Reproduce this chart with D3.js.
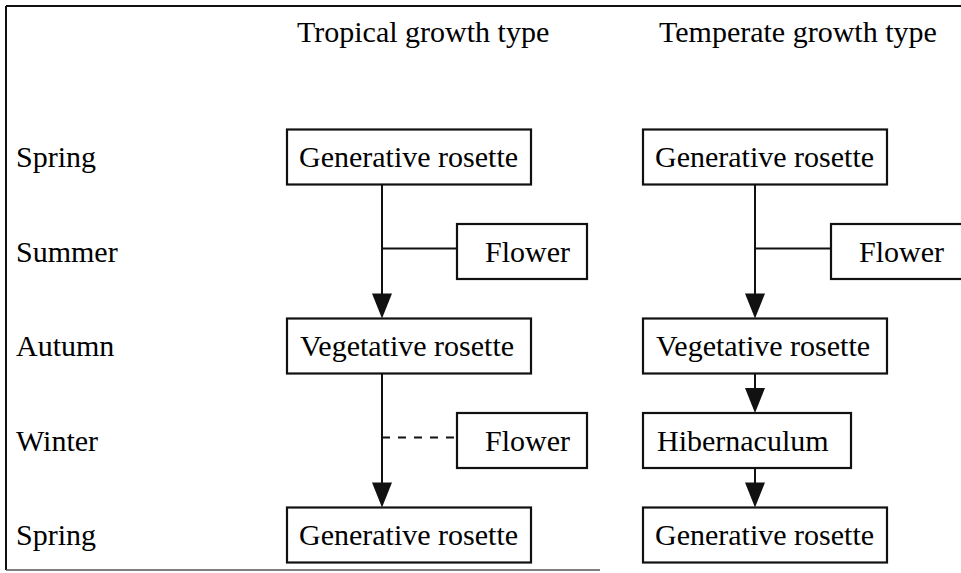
<!DOCTYPE html>
<html>
<head>
<meta charset="utf-8">
<script src="https://cdn.jsdelivr.net/npm/d3@7"></script>
<style>
  html, body { margin: 0; padding: 0; background: #fff; }
  svg { display: block; }
  text { font-family: "Liberation Serif", "Times New Roman", serif; font-size: 30px; fill: #000; }
</style>
</head>
<body>
<svg id="chart" width="961" height="573"></svg>
<script>
// ---- data ----
const seasons = ["Spring", "Summer", "Autumn", "Winter", "Spring"];
const columns = ["Tropical growth type", "Temperate growth type"];
// nodes: column index, season row index, label, kind
const nodeColumn = [0, 0, 0, 0, 0, 1, 1, 1, 1, 1];
const nodeRow    = [0, 1, 2, 3, 4, 0, 1, 2, 3, 4];
const nodeLabel  = ["Generative rosette", "Flower", "Vegetative rosette", "Flower", "Generative rosette",
                    "Generative rosette", "Flower", "Vegetative rosette", "Hibernaculum", "Generative rosette"];
const nodeKind   = ["main", "side", "main", "side", "main", "main", "side", "main", "main", "main"];
// arrows along the main stem: from node index -> to node index
const arrowFrom = [0, 2, 5, 7, 8];
const arrowTo   = [2, 4, 7, 8, 9];
// side branches: stem column -> side node, line type
const branchNode = [1, 3, 6];
const branchType = ["solid", "dashed", "solid"];

// ---- layout ----
const svg = d3.select("#chart");
const y = d3.scalePoint().domain(d3.range(seasons.length)).range([157, 535]);
const xCol = d3.scaleOrdinal().domain(d3.range(columns.length)).range([287, 643]);
const stemOffset = [95, 112];
const titleOffset = [10, 16];
const sideOffset = [170, 188];
const sideWidth = [130, 150]; // temperate side box runs off the cropped right edge
const boxH = 55;
const widthFor = { "Generative rosette": 244, "Vegetative rosette": 244, "Hibernaculum": 208 };
const textPad = { "Generative rosette": 12, "Vegetative rosette": 13, "Hibernaculum": 14, "Flower": 28 };

function nodeBox(i) {
  const c = nodeColumn[i];
  const side = nodeKind[i] === "side";
  const left = side ? xCol(c) + sideOffset[c] : xCol(c);
  const w = side ? sideWidth[c] : widthFor[nodeLabel[i]];
  const cy = y(nodeRow[i]);
  return { x: left, y: cy - boxH / 2, w: w, h: boxH, cy: cy };
}

// frame (scanned figure border, right side cropped)
const frame = svg.append("g").attr("stroke", "#111").attr("stroke-width", 2).attr("fill", "none");
frame.append("line").attr("x1", 6).attr("y1", 6).attr("x2", 961).attr("y2", 6);
frame.append("line").attr("x1", 6).attr("y1", 6).attr("x2", 6).attr("y2", 570);
frame.append("line").attr("x1", 6).attr("y1", 570).attr("x2", 600).attr("y2", 570).attr("stroke", "#555").attr("stroke-width", 1.5);

// column titles
svg.selectAll("text.col").data(columns).join("text")
  .attr("class", "col")
  .attr("x", (d, i) => xCol(i) + titleOffset[i])
  .attr("y", 42)
  .text(d => d);

// season labels
svg.selectAll("text.season").data(seasons).join("text")
  .attr("class", "season")
  .attr("x", 16)
  .attr("y", (d, i) => y(i) + 10)
  .text(d => d);

// stems with arrows
const headW = 20, headH = 25;
const stems = svg.append("g");
arrowFrom.forEach((f, k) => {
  const t = arrowTo[k];
  const c = nodeColumn[f];
  const sx = xCol(c) + stemOffset[c];
  const a = nodeBox(f), b = nodeBox(t);
  const y0 = a.y + a.h, y1 = b.y;
  stems.append("line")
    .attr("x1", sx).attr("x2", sx).attr("y1", y0).attr("y2", y1 - headH + 2)
    .attr("stroke", "#111").attr("stroke-width", 2);
  stems.append("path")
    .attr("d", d3.line()([[sx - headW / 2, y1 - headH], [sx + headW / 2, y1 - headH], [sx, y1]]) + "Z")
    .attr("fill", "#111");
});

// side branches
branchNode.forEach((n, k) => {
  const c = nodeColumn[n];
  const sx = xCol(c) + stemOffset[c];
  const b = nodeBox(n);
  stems.append("line")
    .attr("x1", sx).attr("x2", b.x).attr("y1", b.cy - 3).attr("y2", b.cy - 3)
    .attr("stroke", "#111").attr("stroke-width", 2)
    .attr("stroke-dasharray", branchType[k] === "dashed" ? "8,8" : null);
});

// boxes
const nodes = svg.selectAll("g.node").data(nodeLabel).join("g").attr("class", "node");
nodes.append("rect")
  .attr("x", (d, i) => nodeBox(i).x)
  .attr("y", (d, i) => nodeBox(i).y)
  .attr("width", (d, i) => nodeBox(i).w)
  .attr("height", boxH)
  .attr("fill", "#fff")
  .attr("stroke", "#111")
  .attr("stroke-width", 2.2);
nodes.append("text")
  .attr("x", (d, i) => nodeBox(i).x + textPad[d])
  .attr("y", (d, i) => nodeBox(i).cy + 10)
  .text(d => d);
</script>
</body>
</html>
